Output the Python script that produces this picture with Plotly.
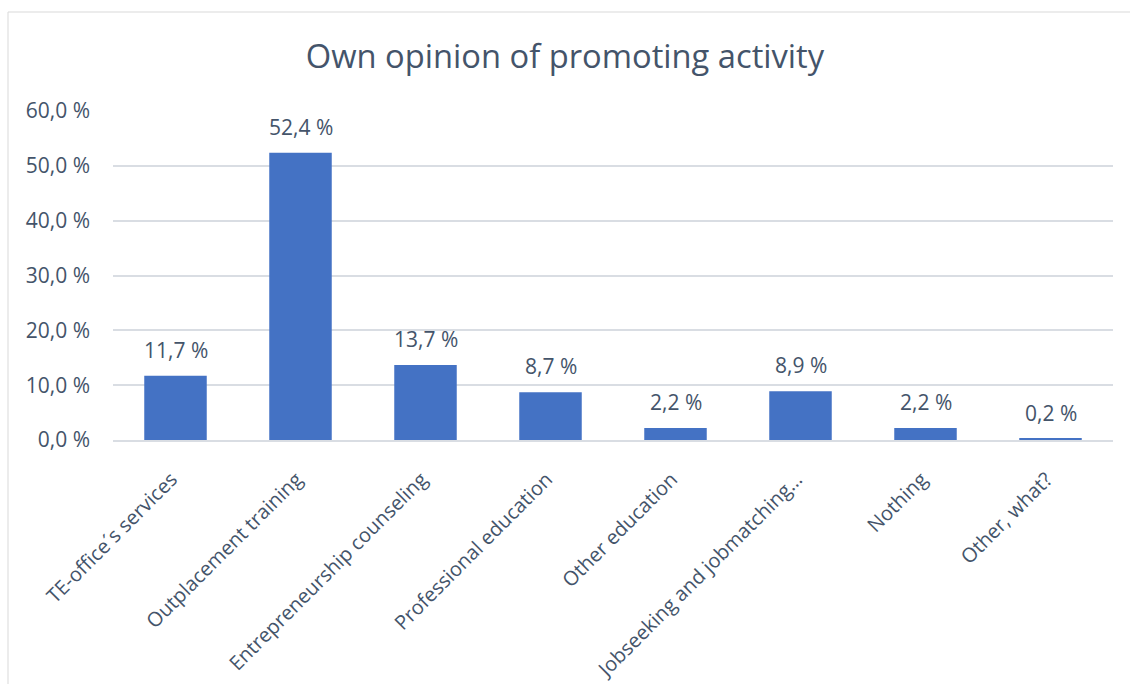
import plotly.graph_objects as go

categories = ["TE-office´s services", "Outplacement training", "Entrepreneurship counseling",
              "Professional education", "Other education", "Jobseeking and jobmatching…",
              "Nothing", "Other, what?"]
values = [11.7, 52.4, 13.7, 8.7, 2.2, 8.9, 2.2, 0.2]
y_ticks = [0, 10, 20, 30, 40, 50, 60]
y_tick_labels = [f"{t:.1f} %".replace(".", ",") for t in y_ticks]

TEXT = "#44546A"
FONT = "Open Sans"

fig = go.Figure()
fig.add_trace(go.Bar(
    x=categories, y=values,
    marker=dict(color="#4472C4", line=dict(width=0)),
    width=0.5,
    hoverinfo="x+y",
))

for c, v in zip(categories, values):
    fig.add_annotation(
        x=c, y=v, text=f"{v:.1f} %".replace(".", ","),
        showarrow=False, yanchor="middle", yshift=26,
        font=dict(family=FONT, size=21, color=TEXT),
    )

fig.update_layout(
    width=1130, height=684,
    margin=dict(l=113, r=17, t=111, b=244, autoexpand=False),
    paper_bgcolor="white", plot_bgcolor="white",
    title=dict(text="Own opinion of promoting activity", x=0.5, xanchor="center",
               y=1 - 57 / 684, yanchor="middle",
               font=dict(family=FONT, size=32.7, color=TEXT)),
    showlegend=False,
    bargap=0.5,
    font=dict(family=FONT, size=20, color=TEXT),
)
fig.update_yaxes(range=[0, 60], tickvals=y_ticks, ticktext=y_tick_labels,
                 showgrid=True, gridcolor="#D9DDE3", gridwidth=1.5, zeroline=False,
                 showline=False, ticks="", ticklabelstandoff=22,
                 tickfont=dict(family=FONT, size=21, color=TEXT))
fig.update_xaxes(tickangle=-45, showline=True, linecolor="#D9DDE3", linewidth=1.5,
                 ticks="", showgrid=False, ticklabelstandoff=18, ticklabelshift=-4,
                 tickfont=dict(family=FONT, size=20, color=TEXT))

# chart border
fig.add_shape(type="rect", xref="paper", yref="paper",
              x0=(8 - 113) / 1000, x1=1.2, y0=-1.0, y1=(440 - 12) / 329,
              line=dict(color="#D9D9D9", width=1), fillcolor="rgba(0,0,0,0)", layer="below")

fig.write_html("out.html", config={"displayModeBar": False},
               post_script="document.body.style.margin='0';document.body.style.overflow='hidden';")
